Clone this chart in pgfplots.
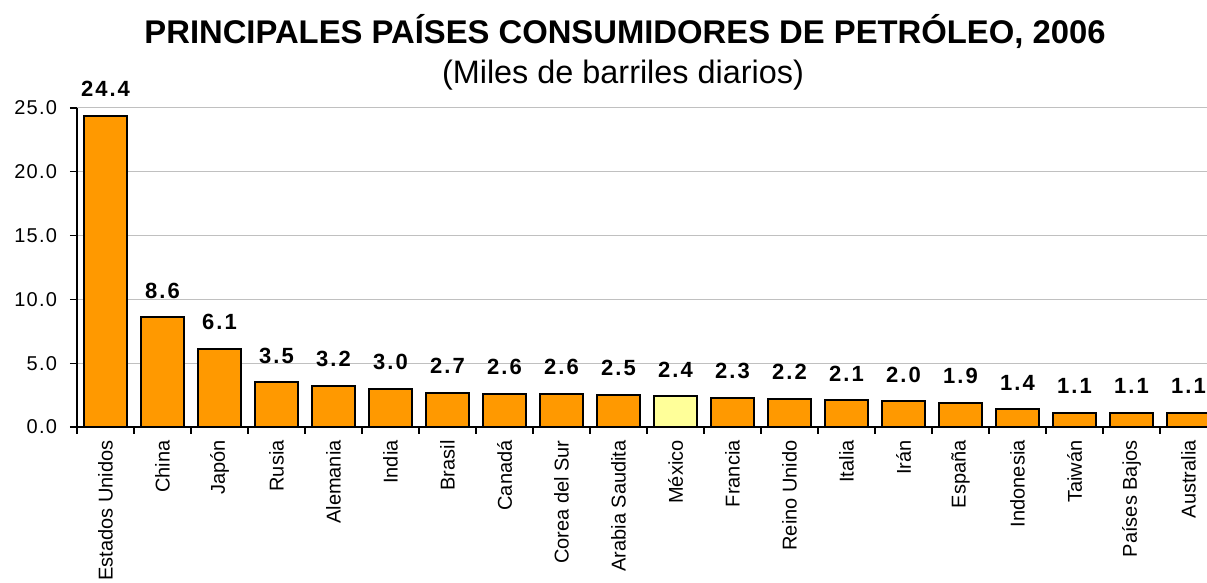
\documentclass[border=0pt]{standalone}
\usepackage{pgfplots}
\pgfplotsset{compat=1.18}
\usepackage{fontspec}
\setmainfont{Liberation Sans}
\newfontfamily\lblfont[LetterSpace=9]{Liberation Sans}
\newfontfamily\tickfont[LetterSpace=6]{Liberation Sans}
\definecolor{barorange}{HTML}{FF9900}
\definecolor{baryellow}{HTML}{FFFF99}
\definecolor{gridgray}{HTML}{C0C0C0}
\begin{document}
\begin{tikzpicture}
\path[use as bounding box] (0,0) rectangle (603.5pt,291.5pt);
\node[font=\bfseries\fontsize{16.4}{19}\selectfont] at (312.5pt,275.5pt) {PRINCIPALES PAÍSES CONSUMIDORES DE PETRÓLEO, 2006};
\node[font=\fontsize{16.2}{19}\selectfont] at (311.5pt,254pt) {(Miles de barriles diarios)};
\begin{axis}[
  at={(38.5pt,78pt)}, anchor=south west,
  scale only axis, width=570pt, height=159.5pt,
  xmin=-0.5, xmax=19.5, ymin=0, ymax=25,
  axis x line=bottom, axis y line=left,
  axis line style={-, black, line width=0.6pt},
  /pgf/number format/assume math mode=true,
  ytick={0,5,...,25},
  yticklabel style={font=\tickfont\fontsize{10}{12}\selectfont, xshift=-3pt, /pgf/number format/.cd, fixed, fixed zerofill, precision=1},
  ymajorgrids, grid style={gridgray, line width=0.5pt},
  xtick={-0.5,0.5,...,19.5},
  x tick label as interval,
  xticklabels={Estados Unidos, China, Japón, Rusia, Alemania, India, Brasil, Canadá, Corea del Sur, Arabia Saudita, México, Francia, Reino Unido, Italia, Irán, España, Indonesia, Taiwán, Países Bajos, Australia},
  xticklabel style={rotate=90, anchor=east, font=\fontsize{10}{12}\selectfont, inner sep=0pt, xshift=-3pt},
  tick align=outside, major tick length=3.5pt,
  tick style={black, line width=0.6pt},
  ybar, bar width=0.75, bar shift=0pt,
  nodes near coords={\pgfmathprintnumber[fixed,fixed zerofill,precision=1]{\pgfplotspointmeta}},
  every node near coord/.append style={font=\lblfont\bfseries\fontsize{11}{13}\selectfont, inner sep=0pt, anchor=south, yshift=9pt, black},
  clip=false,
]
\addplot[fill=barorange, draw=black, line width=1pt] coordinates {
 (0,24.4) (1,8.6) (2,6.1) (3,3.5) (4,3.2) (5,3.0) (6,2.7) (7,2.6) (8,2.6) (9,2.5)
 (11,2.3) (12,2.2) (13,2.1) (14,2.0) (15,1.9) (16,1.4) (17,1.1) (18,1.1) (19,1.1)};
\addplot[fill=baryellow, draw=black, line width=1pt] coordinates {(10,2.4)};
\end{axis}
\end{tikzpicture}
\end{document}
